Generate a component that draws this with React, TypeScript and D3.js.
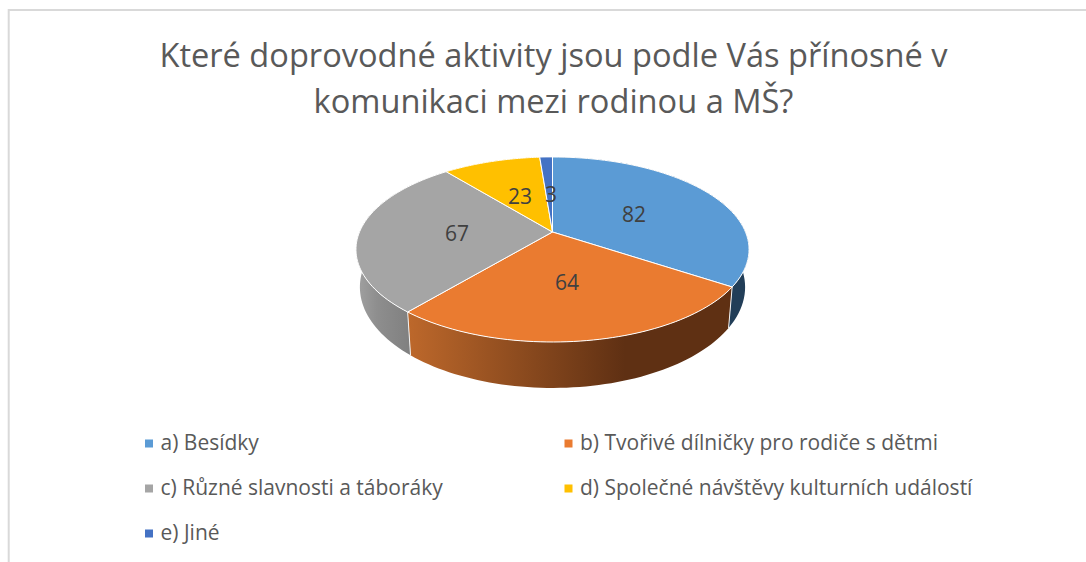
import * as d3 from "d3";

const categories = [
  "a) Besídky",
  "b) Tvořivé dílničky pro rodiče s dětmi",
  "c) Různé slavnosti a táboráky",
  "d) Společné návštěvy kulturních událostí",
  "e) Jiné",
];
const values = [82, 64, 67, 23, 3];
const colors = ["#5b9bd5", "#ea7b30", "#a5a5a5", "#ffc000", "#4472c4"];
const titleLines = [
  "Které doprovodné aktivity jsou podle Vás přínosné v",
  "komunikaci mezi rodinou a MŠ?",
];

const width = 1086;
const height = 562;
const font = "'Open Sans', sans-serif";

// perspective pie: apex and squash
const cx = 552.5;
const cy = 232;
const a = 193;
const b = 89.2;
const k = 0.189;

function project(angle: number): [number, number] {
  const x = Math.sin(angle);
  const y = Math.cos(angle);
  const w = 1 + k * y;
  return [cx + (a * x) / w, cy - (b * y) / w];
}

// lower rim of the pie, slightly narrower
function projectLow(angle: number): [number, number] {
  const [x, y] = project(angle);
  return [cx + (x - cx) * 0.98, y + 41 + (y - 287) * 0.09];
}

const line = d3.line();

function sample(start: number, end: number) {
  return d3.range(0, 61).map((i) => start + ((end - start) * i) / 60);
}

const slices = d3.pie<number>().sort(null)(values);

// slice index, marker x, row centre y
const legendItems = [
  { item: 0, x: 145, y: 444 },
  { item: 1, x: 564.5, y: 444 },
  { item: 2, x: 145, y: 489 },
  { item: 3, x: 564.5, y: 489 },
  { item: 4, x: 145, y: 534 },
];

const labelPos = [
  [634, 214],
  [567, 282],
  [457, 233],
  [520, 196],
  [551, 194],
];

export default function App() {
  return (
    <svg
      width={width}
      height={height}
      style={{ position: "fixed", left: 0, top: 0, background: "#fff" }}
    >
      <defs>
        <linearGradient id="wallOrange" gradientUnits="userSpaceOnUse" x1="408" x2="625" y1="0" y2="0">
          <stop offset="0" stopColor="#bd682b" />
          <stop offset="1" stopColor="#5f3013" />
        </linearGradient>
        <linearGradient id="wallGray" gradientUnits="userSpaceOnUse" x1="358" x2="412" y1="0" y2="0">
          <stop offset="0" stopColor="#a0a0a0" />
          <stop offset="0.35" stopColor="#8e8e8e" />
          <stop offset="1" stopColor="#7f7f7f" />
        </linearGradient>
      </defs>

      <path d="M8.7 562V10H1086" fill="none" stroke="#d9d9d9" strokeWidth={2} />

      {titleLines.map((t, i) => (
        <text
          key={t}
          x={553.5}
          y={67 + i * 46}
          textAnchor="middle"
          fontFamily={font}
          fontSize={32.6}
          fill="#595959"
        >
          {t}
        </text>
      ))}

      {slices.map((s, i) => {
        const angles = sample(s.startAngle, s.endAngle);
        const pts = [...angles.map(project), ...angles.slice().reverse().map(projectLow)];
        const fill =
          i === 0 ? "#223e58" : i === 1 ? "url(#wallOrange)" : i === 2 ? "url(#wallGray)" : colors[i];
        return <path key={i} d={line(pts) + "Z"} fill={fill} />;
      })}

      {/* white seams on the wall between the front slices */}
      {slices.slice(0, 2).map((s, i) => (
        <path
          key={i}
          d={line([project(s.endAngle), projectLow(s.endAngle)]) ?? ""}
          stroke="#f2f2f2"
          strokeWidth={1}
          fill="none"
        />
      ))}

      {slices.map((s, i) => {
        const pts = [[cx, cy] as [number, number], ...sample(s.startAngle, s.endAngle).map(project)];
        return (
          <path
            key={i}
            d={line(pts) + "Z"}
            fill={colors[i]}
            stroke="#fff"
            strokeWidth={1}
            strokeLinejoin="round"
          />
        );
      })}

      {values.map((v, i) => (
        <text
          key={i}
          x={labelPos[i][0]}
          y={labelPos[i][1]}
          dy="0.36em"
          textAnchor="middle"
          fontFamily={font}
          fontSize={21}
          fill="#404040"
        >
          {v}
        </text>
      ))}

      {legendItems.map((r) => (
        <g key={r.item}>
          <rect x={r.x} y={r.y - 4.5} width={8} height={8} fill={colors[r.item]} />
          <text x={r.x + 15.5} y={r.y + 6} fontFamily={font} fontSize={21} fill="#595959">
            {categories[r.item]}
          </text>
        </g>
      ))}
    </svg>
  );
}
